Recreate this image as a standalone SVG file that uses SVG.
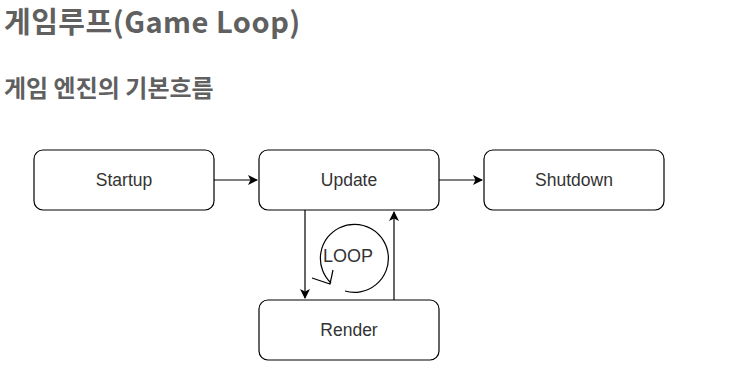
<svg xmlns="http://www.w3.org/2000/svg" width="729" height="383" viewBox="0 0 729 383">
<defs>
<style>
.node rect{fill:#fff;stroke:#000;stroke-width:1.2}
.node text{font-family:"Liberation Sans",Arial,sans-serif;font-size:17.5px;fill:#333;text-anchor:middle;dominant-baseline:central}
.edge{stroke:#000;stroke-width:1.2;fill:none}
.h{font-family:"Noto Sans CJK KR","Noto Sans",sans-serif;font-weight:bold;fill:#606060}
</style>
<marker id="arr" viewBox="0 0 10 10" refX="9" refY="5" markerWidth="10" markerHeight="10" markerUnits="userSpaceOnUse" orient="auto">
<path d="M0,0 L10,5 L0,10 L2.5,5 Z" fill="#000"/>
</marker>
</defs>
<rect width="729" height="383" fill="#fff"/>
<text class="h" x="4" y="33" font-size="29" letter-spacing="0.5">게임루프(Game Loop)</text>
<text class="h" x="4" y="97" font-size="24">게임 엔진의 기본흐름</text>
<g id="connectors">
<path class="edge" d="M214,180 L257,180" marker-end="url(#arr)"/>
<path class="edge" d="M439,180 L482,180" marker-end="url(#arr)"/>
<path class="edge" d="M305,210 L305,298" marker-end="url(#arr)"/>
<path class="edge" d="M394,300 L394,212" marker-end="url(#arr)"/>
</g>
<g id="loop">
<path class="edge" d="M345,291 A34,34 0 1 0 331,283"/>
<path class="edge" d="M312,278 L330,284 L333,270"/>
<text x="348" y="256" font-family="Liberation Sans,Arial,sans-serif" font-size="18" fill="#333" text-anchor="middle" dominant-baseline="central">LOOP</text>
</g>
<g id="startup" class="node"><rect x="34" y="150" width="180" height="60" rx="9"/><text x="124" y="180">Startup</text></g>
<g id="update" class="node"><rect x="259" y="150" width="180" height="60" rx="9"/><text x="349" y="180">Update</text></g>
<g id="shutdown" class="node"><rect x="484" y="150" width="180" height="60" rx="9"/><text x="574" y="180">Shutdown</text></g>
<g id="render" class="node"><rect x="259" y="300" width="180" height="60" rx="9"/><text x="349" y="330">Render</text></g>
</svg>
